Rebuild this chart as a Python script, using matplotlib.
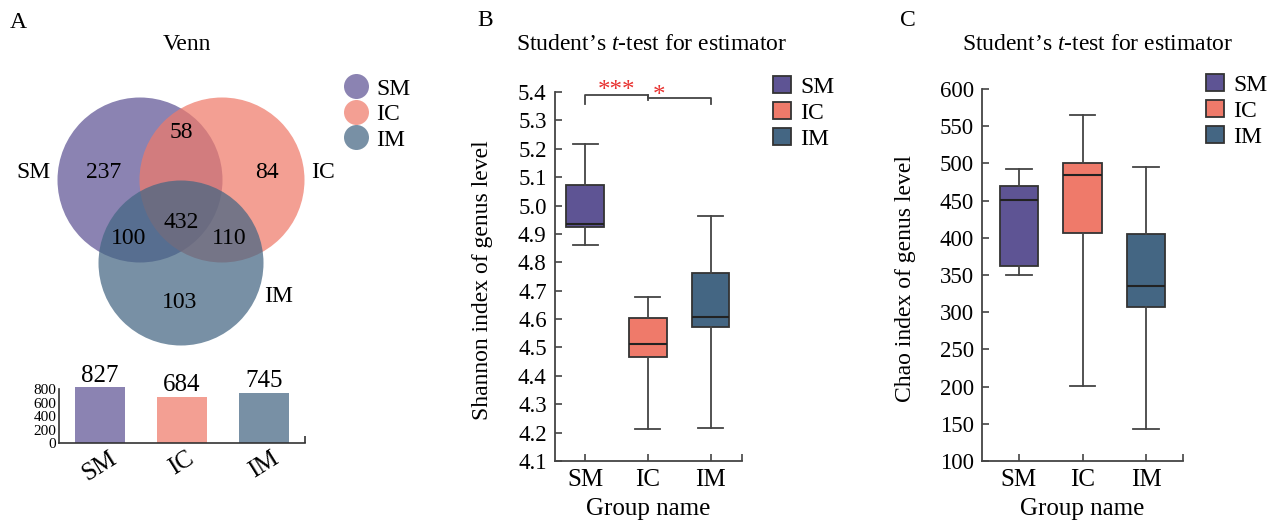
import matplotlib
matplotlib.use("Agg")
import matplotlib.pyplot as plt
from matplotlib.patches import Circle, Patch
from matplotlib.lines import Line2D

plt.rcParams['font.family'] = ['Liberation Serif', 'DejaVu Serif']
plt.rcParams['mathtext.fontset'] = 'custom'
plt.rcParams['mathtext.rm'] = 'Liberation Serif'
plt.rcParams['mathtext.it'] = 'Liberation Serif:italic'

# data
groups = ["SM", "IC", "IM"]
colors = ["#5E5494", "#EF7A6A", "#446683"]
venn_only = [237, 84, 103]          # SM, IC, IM only
venn_pairs = [58, 100, 110]         # SM&IC, SM&IM, IC&IM
venn_all = 432
totals = [827, 684, 745]

shannon_whislo = [4.862, 4.213, 4.215]
shannon_q1 = [4.925, 4.465, 4.573]
shannon_med = [4.936, 4.511, 4.608]
shannon_q3 = [5.074, 4.604, 4.763]
shannon_whishi = [5.216, 4.678, 4.963]

chao_whislo = [350, 201, 143]
chao_q1 = [362, 406, 307]
chao_med = [451, 485, 335]
chao_q3 = [469, 500, 405]
chao_whishi = [492, 565, 495]

W, H = 1276, 523
fig = plt.figure(figsize=(W / 100, H / 100), dpi=100)


def rect(x0, y0, x1, y1):
    # pixel box (top-left origin) -> figure fraction
    return [x0 / W, 1 - y1 / H, (x1 - x0) / W, (y1 - y0) / H]


# ---------- panel A: venn ----------
axv = fig.add_axes(rect(0, 60, 430, 360))
axv.set_xlim(0, 430)
axv.set_ylim(360, 60)
axv.axis('off')
r = 82.5
centers = [(140, 180), (222, 180), (181, 263)]
for (cx, cy), c in zip(centers, colors):
    axv.add_patch(Circle((cx, cy), r, facecolor=c, alpha=0.72, edgecolor='none'))

fs = 17
only_pos = [(104, 173), (267, 173), (180, 303)]
pair_pos = [(181, 132), (129, 239), (229, 238)]
for (x, y), v in zip(only_pos, venn_only):
    axv.text(x, y, str(v), ha='center', va='center', fontsize=fs)
for (x, y), v in zip(pair_pos, venn_pairs):
    axv.text(x, y, str(v), ha='center', va='center', fontsize=fs)
axv.text(181, 222, str(venn_all), ha='center', va='center', fontsize=fs)
for (x, y), g in zip([(33, 173), (323, 173), (279, 297)], groups):
    axv.text(x, y, g, ha='center', va='center', fontsize=fs)

handles_a = [Line2D([], [], marker='o', ls='none', markersize=18, color=c, alpha=0.72,
                    markeredgewidth=0) for c in colors]
fig.legend(handles_a, groups, loc='upper left', bbox_to_anchor=(347 / W, 1 - 78 / H),
           frameon=False, fontsize=fs, handlelength=0.8, handletextpad=0.45,
           labelspacing=0.17, borderpad=0, borderaxespad=0)

# bar chart of totals
axb = fig.add_axes(rect(59, 387, 305, 443))
xb = range(len(groups))
axb.bar(xb, totals, width=0.6, color=colors, alpha=0.72)
for x, v in zip(xb, totals):
    axb.text(x, v + 8, str(v), ha='center', va='bottom', fontsize=18)
axb.set_xlim(-0.5, 2.5)
axb.set_ylim(0, 830)
axb.set_yticks([0, 200, 400, 600, 800])
axb.tick_params(axis='y', labelsize=11, length=0, pad=2)
axb.set_xticks(list(xb))
axb.set_xticklabels(groups, rotation=32, fontsize=18)
axb.tick_params(axis='x', length=0, pad=3)
axb.spines['top'].set_visible(False)
axb.spines['right'].set_visible(False)
axb.spines['left'].set_bounds(0, 800)
for s in ['left', 'bottom']:
    axb.spines[s].set_color('#333333')
    axb.spines[s].set_linewidth(1.2)
axb.set_xticks([2.5], minor=True)
axb.tick_params(axis='x', which='minor', direction='in', length=5, color='#333333', width=1.2)


# ---------- boxplots ----------
def boxpanel(ax, lo, q1, med, q3, hi, ylim, yticks, xlim, ylabel):
    stats = [dict(whislo=a, q1=b, med=c, q3=d, whishi=e, fliers=[])
             for a, b, c, d, e in zip(lo, q1, med, q3, hi)]
    bp = ax.bxp(stats, positions=range(len(groups)), widths=0.6, patch_artist=True,
                showfliers=False, capwidths=0.4,
                boxprops=dict(edgecolor='#333333', linewidth=1.3),
                medianprops=dict(color='#222222', linewidth=1.5),
                whiskerprops=dict(color='#444444', linewidth=1.3),
                capprops=dict(color='#444444', linewidth=1.3))
    for patch, c in zip(bp['boxes'], colors):
        patch.set_facecolor(c)
    ax.set_xlim(*xlim)
    ax.set_ylim(*ylim)
    ax.set_yticks(yticks)
    ax.set_xticks(range(len(groups)))
    ax.set_xticklabels(groups)
    ax.set_xticks([xlim[1]], minor=True)
    ax.tick_params(axis='both', which='both', direction='in', length=5,
                   color='#444444', width=1.2)
    ax.tick_params(axis='x', labelsize=18, pad=6)
    ax.tick_params(axis='y', labelsize=16.5, pad=6)
    ax.spines['top'].set_visible(False)
    ax.spines['right'].set_visible(False)
    for s in ['left', 'bottom']:
        ax.spines[s].set_color('#444444')
        ax.spines[s].set_linewidth(1.3)
    ax.set_ylabel(ylabel, fontsize=17)
    ax.yaxis.set_label_coords(-0.33, 0.49)
    ax.set_xlabel("Group name", fontsize=18)
    ax.xaxis.set_label_coords(0.5, -0.1)


box_handles = [Patch(facecolor=c, edgecolor='#333333', linewidth=1.3) for c in colors]

axB = fig.add_axes(rect(555, 92, 742, 461))
boxpanel(axB, shannon_whislo, shannon_q1, shannon_med, shannon_q3, shannon_whishi,
         (4.1, 5.4), [4.1 + 0.1 * i for i in range(14)], (-0.48, 2.5),
         "Shannon index of genus level")
axB.set_yticklabels([f"{4.1 + 0.1 * i:.1f}" for i in range(14)])
# significance brackets
bk = dict(color='#444444', lw=1.3, clip_on=False)
axB.plot([0, 0, 1, 1], [5.358, 5.389, 5.389, 5.372], **bk)
axB.plot([1, 1, 2, 2], [5.389, 5.379, 5.379, 5.358], **bk)
axB.text(0.5, 5.402, "***", color='#E8312F', fontsize=18, ha='center', va='center')
axB.text(1.18, 5.385, "*", color='#E8312F', fontsize=18, ha='center', va='center')

axC = fig.add_axes(rect(982, 89, 1183, 461))
boxpanel(axC, chao_whislo, chao_q1, chao_med, chao_q3, chao_whishi,
         (100, 600), list(range(100, 601, 50)), (-0.58, 2.58),
         "Chao index of genus level")

fig.legend(box_handles, groups, loc='upper left', bbox_to_anchor=(773 / W, 1 - 76 / H),
           frameon=False, fontsize=17, handlelength=0.75, handleheight=0.75,
           handletextpad=0.4, labelspacing=0.17, borderpad=0, borderaxespad=0)
fig.legend(box_handles, groups, loc='upper left', bbox_to_anchor=(1206 / W, 1 - 74 / H),
           frameon=False, fontsize=17, handlelength=0.75, handleheight=0.75,
           handletextpad=0.4, labelspacing=0.17, borderpad=0, borderaxespad=0)

# titles and panel letters
fig.text(187 / W, 1 - 45 / H, "Venn", ha='center', va='center', fontsize=17)
fig.text(652 / W, 1 - 45 / H, "Student\u2019s $t$-test for estimator", ha='center', va='center', fontsize=17)
fig.text(1098 / W, 1 - 45 / H, "Student\u2019s $t$-test for estimator", ha='center', va='center', fontsize=17)
fig.text(18 / W, 1 - 22 / H, "A", ha='center', va='center', fontsize=17)
fig.text(485 / W, 1 - 20 / H, "B", ha='center', va='center', fontsize=17)
fig.text(908 / W, 1 - 20 / H, "C", ha='center', va='center', fontsize=17)

fig.savefig("out.png", dpi=100)
